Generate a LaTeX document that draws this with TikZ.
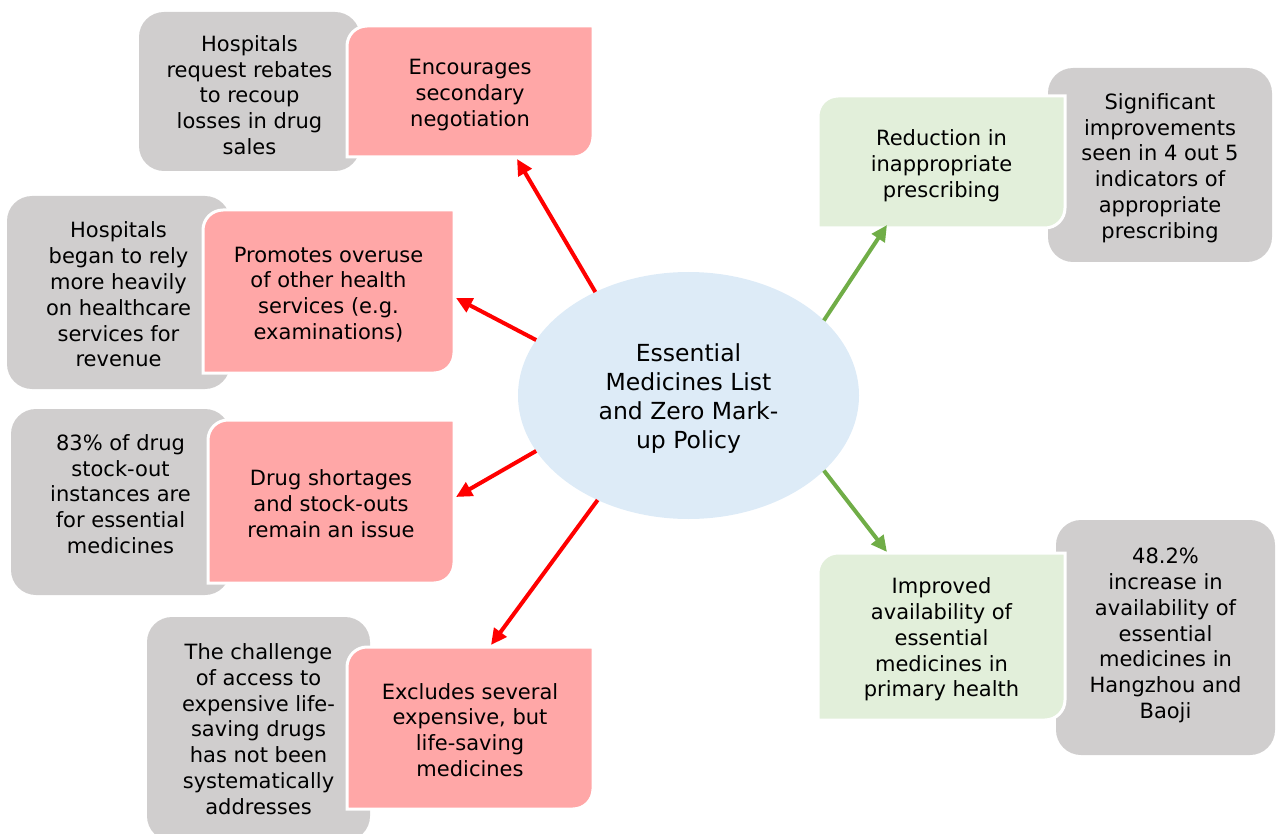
\documentclass[tikz,border=0pt]{standalone}
\usepackage{fontspec}
\setmainfont{DejaVu Sans}
\usetikzlibrary{arrows.meta,calc,shapes.geometric}
\definecolor{pinkf}{HTML}{FFA7A7}
\definecolor{greyf}{HTML}{D0CECE}
\definecolor{greenf}{HTML}{E2EFDA}
\definecolor{bluef}{HTML}{DDEBF7}
\definecolor{redar}{HTML}{FF0000}
\definecolor{greenar}{HTML}{70AD47}
\tikzset{
  bodyfont/.style={font=\fontsize{21}{25.8}\selectfont},
  cshape/.style={draw=white, line width=3pt},
  gshape/.style={fill=greyf, rounded corners=25pt},
  ctext/.style={bodyfont, align=center, inner sep=0pt, outer sep=0pt, text=black},
  ell/.style={ellipse, minimum width=341pt, minimum height=247pt, inner sep=0pt, outer sep=0pt, align=center, font=\fontsize{23.5}{29}\selectfont},
  redarrow/.style={draw=redar, line width=4pt, -{Triangle[length=16pt,width=15pt]}},
  greenarrow/.style={draw=greenar, line width=4pt, -{Triangle[length=16pt,width=15pt]}}
}
% name, cx, cy (pixels, y down), w, h, colour, text shift (down), text
\newcommand\cbox[8]{%
  \path[cshape, fill=#6] ({#2-#4/2+20},{-#3+#5/2}) -- ({#2+#4/2},{-#3+#5/2}) -- ({#2+#4/2},{-#3-#5/2+20})
    arc[start angle=0, end angle=-90, radius=20pt] -- ({#2-#4/2},{-#3-#5/2}) -- ({#2-#4/2},{-#3+#5/2-20})
    arc[start angle=180, end angle=90, radius=20pt] -- cycle;
  \node[ctext, minimum width=#4pt, minimum height=#5pt] (#1) at (#2,{-#3-#7}) {#8};%
}
% name, cx, cy, w, h, text shift (down), text
\newcommand\gbox[7]{%
  \path[gshape] ({#2-#4/2},{-#3+#5/2}) rectangle ({#2+#4/2},{-#3-#5/2});
  \node[ctext, minimum width=#4pt, minimum height=#5pt] (#1) at (#2,{-#3-#6}) {#7};%
}
\begin{document}
\begin{tikzpicture}[x=1pt, y=1pt]
\clip (0,0) rectangle (1277,-834);
\useasboundingbox (0,0) rectangle (1277,-834);

% grey boxes
\gbox{g1}{249.5}{91.5}{221}{159}{3.5}{Hospitals\\request rebates\\to recoup\\losses in drug\\sales}
\gbox{g2}{118.5}{292.5}{223}{193}{2}{Hospitals\\began to rely\\more heavily\\on healthcare\\services for\\revenue}
\gbox{g3}{120.5}{502}{219}{186}{-8}{83\% of drug\\stock-out\\instances are\\for essential\\medicines}
\gbox{g4}{258.5}{729}{223}{224}{0}{The challenge\\of access to\\expensive life-\\saving drugs\\has not been\\systematically\\addresses}
\gbox{r1}{1160}{165}{224}{194}{3}{Significant\\improvements\\seen in 4 out 5\\indicators of\\appropriate\\prescribing}
\gbox{r2}{1165.5}{637.5}{219}{235}{-2}{48.2\%\\increase in\\availability of\\essential\\medicines in\\Hangzhou and\\Baoji}

% coloured boxes
\cbox{p1}{470}{91.5}{246}{131}{pinkf}{3.5}{Encourages\\secondary\\negotiation}
\cbox{p2}{328.5}{291.5}{251}{163}{pinkf}{3}{Promotes overuse\\of other health\\services (e.g.\\examinations)}
\cbox{p3}{331}{501.5}{246}{163}{pinkf}{2}{Drug shortages\\and stock-outs\\remain an issue}
\cbox{p4}{470}{728}{246}{162}{pinkf}{2}{Excludes several\\expensive, but\\life-saving\\medicines}
\cbox{q1}{941.5}{162}{247}{132}{greenf}{4}{Reduction in\\inappropriate\\prescribing}
\cbox{q2}{941.5}{636.5}{247}{167}{greenf}{3}{Improved\\availability of\\essential\\medicines in\\primary health}

% centre
\fill[bluef] (688.5,-395.5) ellipse [x radius=170.5pt, y radius=123.5pt];
\node[ell] (ctr) at (688.5,-398.5) {Essential\\Medicines List\\and Zero Mark-\\up Policy};

% arrows
\draw[redarrow] ($(ctr.132)+(0,3)$) -- ($(p1.south)+(47,1.5)$);
\draw[redarrow] ($(ctr.160)+(0,3)$) -- ($(p2.east)+(2,-3.5)$);
\draw[redarrow] ($(ctr.200)+(0,3)$) -- ($(p3.east)+(2,6.5)$);
\draw[redarrow] ($(ctr.229)+(0,3)$) -- ($(p4.north)+(21,4)$);
\draw[greenarrow] ($(ctr.29)+(0,3)$) -- ($(q1.south)+(-54.5,7)$);
\draw[greenarrow] ($(ctr.331)+(0,3)$) -- ($(q2.north)+(-54.5,4)$);
\end{tikzpicture}
\end{document}
